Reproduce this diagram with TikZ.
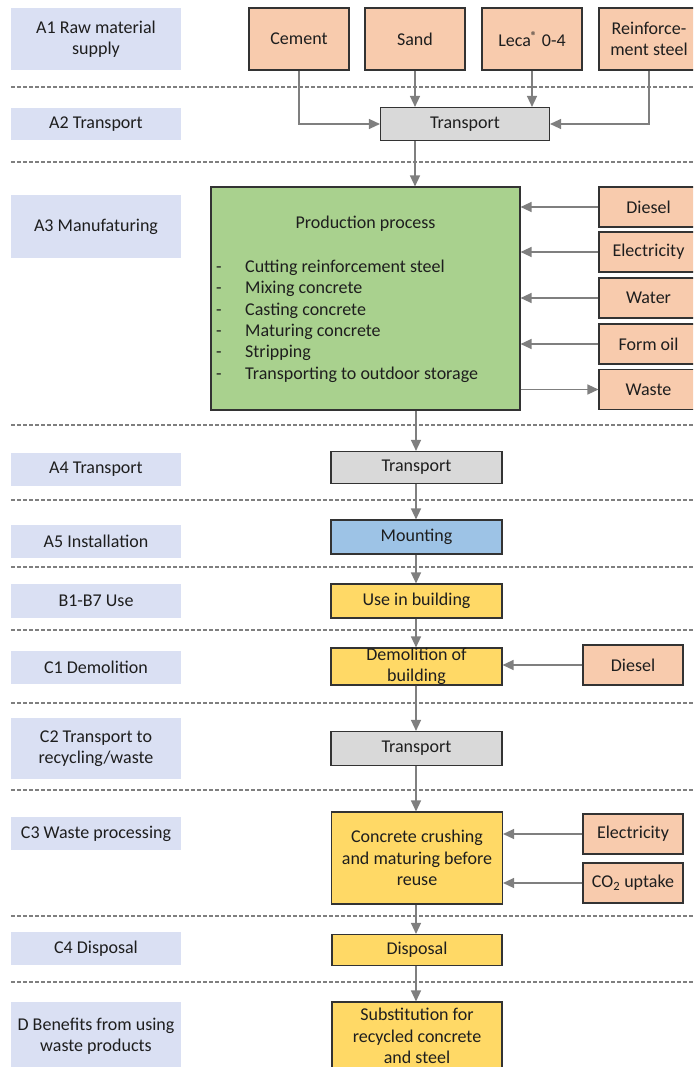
\documentclass[tikz,border=0pt]{standalone}
\usepackage{fontspec}
\setmainfont{Carlito}
\usetikzlibrary{arrows.meta}
\definecolor{salmon}{HTML}{F8CBAD}
\definecolor{greybox}{HTML}{D9D9D9}
\definecolor{greenbox}{HTML}{A9D18E}
\definecolor{bluebox}{HTML}{9DC3E6}
\definecolor{yellowbox}{HTML}{FFD966}
\definecolor{lav}{HTML}{DAE0F3}
\definecolor{arrc}{HTML}{7F7F7F}
\definecolor{dashc}{HTML}{7F7F7F}
\definecolor{bord}{HTML}{333333}
\definecolor{txt}{HTML}{1E1E1E}
\begin{document}
\begin{tikzpicture}[x=1pt,y=-1pt,
  every node/.style={font=\fontsize{18}{21.4}\selectfont, text=txt},
  box/.style={draw=bord, line width=1.1pt, inner sep=0pt, align=center},
  lab/.style={fill=lav, inner sep=0pt, align=center, minimum width=170pt},
  arr/.style={draw=arrc, line width=1.3pt, -{Triangle[length=11pt,width=10pt]}},
  sepline/.style={draw=dashc, line width=1.5pt, dash pattern=on 4pt off 2pt}]
\useasboundingbox (0,0) rectangle (693,1067);
\clip (0,0) rectangle (693,1067);

% dashed separators
\foreach \yy in {87,162,425,500,567,630,703,790,916,982}
  \draw[sepline] (11,\yy) -- (693,\yy);

% left labels
\node[lab, minimum height=62pt] (lA1) at (96,39) {A1 Raw material\\supply};
\node[lab, minimum height=32pt] (lA2) at (96,124) {A2 Transport};
\node[lab, minimum height=63pt] (lA3) at (96,226.5) {A3 Manufaturing};
\node[lab, minimum height=33pt] (lA4) at (96,469.5) {A4 Transport};
\node[lab, minimum height=33pt] (lA5) at (96,541.5) {A5 Installation};
\node[lab, minimum height=34pt] (lB) at (96,601) {B1-B7 Use};
\node[lab, minimum height=33pt] (lC1) at (96,667.5) {C1 Demolition};
\node[lab, minimum height=61pt] (lC2) at (96,748.5) {C2 Transport to\\recycling/waste};
\node[lab, minimum height=33pt] (lC3) at (96,833.5) {C3 Waste processing};
\node[lab, minimum height=33pt] (lC4) at (96,948.5) {C4 Disposal};
\node[lab, minimum height=68pt] (lD) at (96,1036) {D Benefits from using\\waste products};

% column coordinate
\coordinate (col) at (416,0);

% A1 raw materials
\node[box, fill=salmon, minimum width=100pt, minimum height=62pt] (cement) at (299,39) {Cement};
\node[box, fill=salmon, minimum width=100pt, minimum height=62pt] (sand) at (415,39) {Sand};
\node[box, fill=salmon, minimum width=100pt, minimum height=62pt] (leca) at (532,39) {Leca\textsuperscript{®} 0-4};
\node[box, fill=salmon, minimum width=100pt, minimum height=62pt] (reinf) at (649,39) {Reinforce-\\ment steel};

% A2 transport
\node[box, fill=greybox, minimum width=169pt, minimum height=33pt] (t2) at (465,124) {Transport};
\draw[arr] (cement.south) |- (t2.west);
\draw[arr] (sand.south) -- (t2.north -| sand.south);
\draw[arr] (leca.south) -- (t2.north -| leca.south);
\draw[arr] (reinf.south) |- (t2.east);

% A3 production
\node[box, fill=greenbox, minimum width=309pt, minimum height=223pt] (prod) at (365.5,298.5) {};
\node (ptitle) at (365.5,224) {Production process};
\node[anchor=west, inner sep=0pt, align=left] (plist) at (216,321.5) {%
  \begin{tabular}{@{}p{29pt}@{}l@{}}
  - & Cutting reinforcement steel\\
  - & Mixing concrete\\
  - & Casting concrete\\
  - & Maturing concrete\\
  - & Stripping\\
  - & Transporting to outdoor storage
  \end{tabular}};
\draw[arr] (t2.south -| sand.south) -- (prod.north -| sand.south);

\node[box, fill=salmon, minimum width=99pt, minimum height=40pt] (diesel) at (648.5,207) {Diesel};
\node[box, fill=salmon, minimum width=99pt, minimum height=40pt] (elec) at (648.5,252) {Electricity};
\node[box, fill=salmon, minimum width=99pt, minimum height=40pt] (water) at (648.5,298) {Water};
\node[box, fill=salmon, minimum width=99pt, minimum height=40pt] (oil) at (648.5,344) {Form oil};
\node[box, fill=salmon, minimum width=99pt, minimum height=40pt] (waste) at (648.5,389.5) {Waste};
\draw[arr] (diesel.west) -- (diesel.west -| prod.east);
\draw[arr] (elec.west) -- (elec.west -| prod.east);
\draw[arr] (water.west) -- (water.west -| prod.east);
\draw[arr] (oil.west) -- (oil.west -| prod.east);
\draw[arr] (waste.west -| prod.east) -- (waste.west);

% A4 - D column
\node[box, fill=greybox, minimum width=171pt, minimum height=32pt] (t4) at (416.5,467.5) {Transport};
\node[box, fill=bluebox, minimum width=171pt, minimum height=34pt] (mount) at (416.5,537) {Mounting};
\node[box, fill=yellowbox, minimum width=171pt, minimum height=34pt] (use) at (416.5,601) {Use in building};
\node[box, fill=yellowbox, minimum width=171pt, minimum height=37pt] (demo) at (416.5,666.5) {Demolition of\\building};
\node[box, fill=salmon, minimum width=100pt, minimum height=40pt] (diesel2) at (633,665) {Diesel};
\node[box, fill=greybox, minimum width=171pt, minimum height=34pt] (tc2) at (416.5,748.5) {Transport};
\node[box, fill=yellowbox, minimum width=171pt, minimum height=92pt] (crush) at (417,858) {Concrete crushing\\and maturing before\\reuse};
\node[box, fill=salmon, minimum width=100pt, minimum height=40pt] (elec2) at (633,834) {Electricity};
\node[box, fill=salmon, minimum width=100pt, minimum height=40pt] (co2) at (633,883) {CO\textsubscript{2} uptake};
\node[box, fill=yellowbox, minimum width=170pt, minimum height=31pt] (disp) at (417,950) {Disposal};
\node[box, fill=yellowbox, minimum width=170pt, minimum height=68pt] (subst) at (417,1036) {Substitution for\\recycled concrete\\and steel};

\draw[arr] (prod.south -| col) -- (t4.north -| col);
\draw[arr] (t4.south -| col) -- (mount.north -| col);
\draw[arr] (mount.south -| col) -- (use.north -| col);
\draw[arr] (use.south -| col) -- (demo.north -| col);
\draw[arr] (demo.south -| col) -- (tc2.north -| col);
\draw[arr] (tc2.south -| col) -- (crush.north -| col);
\draw[arr] (crush.south -| col) -- (disp.north -| col);
\draw[arr] (disp.south -| col) -- (subst.north -| col);

\draw[arr] (diesel2.west) -- (diesel2.west -| demo.east);
\draw[arr] (elec2.west) -- (elec2.west -| crush.east);
\draw[arr] (co2.west) -- (co2.west -| crush.east);
\end{tikzpicture}
\end{document}
